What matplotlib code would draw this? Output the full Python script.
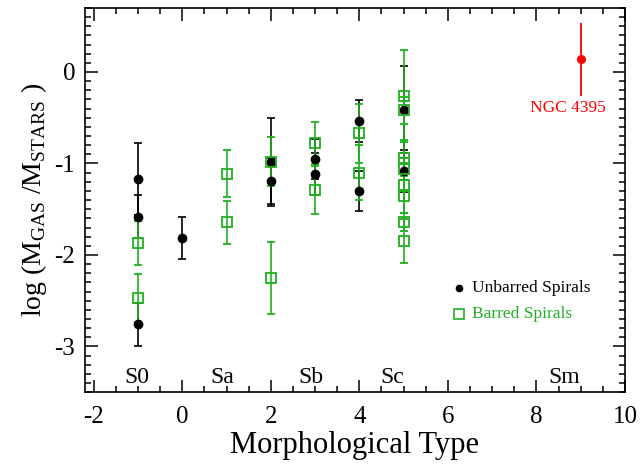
import numpy as np
import matplotlib
matplotlib.use('Agg')
import matplotlib.pyplot as plt
from matplotlib.ticker import MultipleLocator

plt.rcParams['font.family'] = 'Liberation Serif'
plt.rcParams['mathtext.fontset'] = 'custom'
plt.rcParams['mathtext.rm'] = 'Liberation Serif'
plt.rcParams['axes.unicode_minus'] = False

# unbarred spirals (black)
unb_type = [-1, -1, -1, 0, 2, 2, 3, 3, 4, 4, 5, 5]
unb_y = [-1.17, -1.58, -2.76, -1.81, -0.98, -1.19, -0.95, -1.12, -0.54, -1.30, -0.41, -1.08]
unb_err = [0.39, 0.23, 0.23, 0.23, 0.48, 0.25, 0.22, 0.23, 0.23, 0.22, 0.48, 0.23]

# barred spirals (green)
bar_type = [-1, -1, 1, 1, 2, 2, 3, 3, 4, 4, 5, 5, 5, 5, 5, 5, 5, 5]
bar_y = [-1.87, -2.47, -1.11, -1.64, -0.98, -2.25, -0.78, -1.29, -0.67, -1.10,
         -0.26, -0.42, -0.94, -1.06, -1.24, -1.36, -1.64, -1.85]
bar_err = [0.24, 0.26, 0.26, 0.235, 0.27, 0.39, 0.23, 0.26, 0.32, 0.30,
           0.50, 0.15, 0.20, 0.12, 0.30, 0.18, 0.10, 0.24]

# NGC 4395
ngc_type = [9]
ngc_y = [0.14]
ngc_err = [0.40]

type_names = ['S0', 'Sa', 'Sb', 'Sc', 'Sm']
type_pos = [-1.02, 0.9, 2.9, 4.74, 8.62]

green = '#1fb01f'

fig = plt.figure(figsize=(6.43, 4.68), dpi=100)
ax = fig.add_axes([0.132, 0.162, 0.840, 0.821])

ax.errorbar(unb_type, unb_y, yerr=unb_err, fmt='o', color='black', ms=6,
            capsize=3, elinewidth=1.2, capthick=1.2)
ax.errorbar(bar_type, bar_y, yerr=bar_err, fmt='s', color=green, mfc='none',
            mec=green, ms=7, mew=1.3, capsize=3, elinewidth=1.2, capthick=1.2)
ax.errorbar(ngc_type, ngc_y, yerr=ngc_err, fmt='o', color='red', ms=5.5,
            elinewidth=1.3, capsize=0)
ax.text(8.71, -0.39, 'NGC 4395', color='red', fontsize=12.5, ha='center', va='center')

# legend drawn by hand
ax.plot([6.25], [-2.36], 'o', color='black', ms=4.5)
ax.text(6.54, -2.36, 'Unbarred Spirals', fontsize=12.5, va='center')
ax.plot([6.25], [-2.65], 's', color=green, mfc='none', ms=6.5, mew=1.2)
ax.text(6.54, -2.65, 'Barred Spirals', fontsize=12.5, va='center', color=green)

for name, p in zip(type_names, type_pos):
    ax.text(p, -3.34, name, fontsize=17, ha='center', va='center')

ax.set_xlim(-2.2, 10)
ax.set_ylim(-3.5, 0.7)
ax.xaxis.set_major_locator(MultipleLocator(2))
ax.xaxis.set_minor_locator(MultipleLocator(0.5))
ax.yaxis.set_major_locator(MultipleLocator(1))
ax.yaxis.set_minor_locator(MultipleLocator(0.1))
ax.tick_params(which='both', direction='in', top=True, right=True, labelsize=18, width=1.1)
ax.tick_params(which='major', length=9)
ax.tick_params(which='minor', length=4.5)
ax.tick_params(axis='x', which='major', pad=10)
ax.tick_params(axis='y', which='major', pad=7)
for s in ax.spines.values():
    s.set_linewidth(1.2)

ax.set_xlabel('Morphological Type', fontsize=22, labelpad=2)
ax.set_ylabel(r'log (M$_{\mathrm{GAS}}$ /M$_{\mathrm{STARS}}$ )', fontsize=20, labelpad=4)

fig.savefig('out.png', dpi=100)
